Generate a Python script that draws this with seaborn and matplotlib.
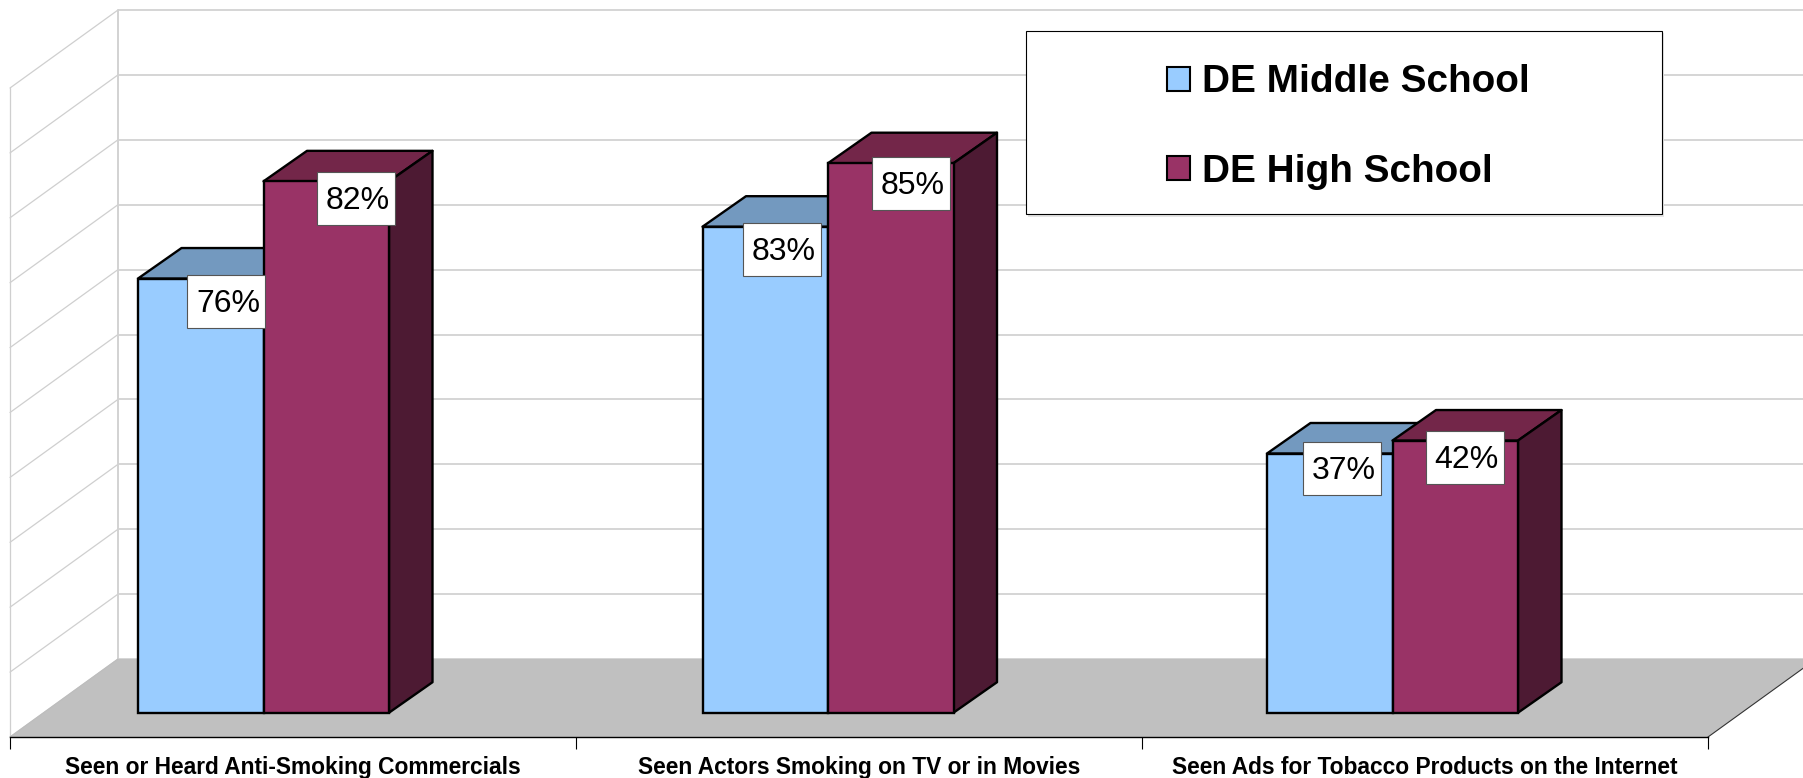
import matplotlib
matplotlib.use("Agg")
import matplotlib.pyplot as plt
import pandas as pd
import seaborn as sns
from matplotlib.patches import Polygon, Rectangle

# ---- data -------------------------------------------------------------
categories = ["Seen or Heard Anti-Smoking Commercials",
              "Seen Actors Smoking on TV or in Movies",
              "Seen Ads for Tobacco Products on the Internet"]
series_names = ["DE Middle School", "DE High School"]
middle_heights = [67, 75, 40]      # heights as drawn in the picture
high_heights = [82, 84.8, 42]
middle_labels = ["76%", "83%", "37%"]   # labels as printed in the picture
high_labels = ["82%", "85%", "42%"]
axis_levels = list(range(0, 101, 10))

# ---- layout -----------------------------------------------------------
W, H = 1803, 778
PX_PER_CAT = 564.5
PX_PER_PCT = 6.48
WALL_PX_PER_PCT = 6.49
CAT0_PX, BASE_PX = 263.5, 712.7
def X(p): return (p - CAT0_PX) / PX_PER_CAT
def Y(p): return (BASE_PX - p) / PX_PER_PCT

BAR_DX, BAR_DY = 43.5 / PX_PER_CAT, 30.5 / PX_PER_PCT
WALL_DX = 108
FRONT_L, FRONT_R, FRONT_B, BACK_B = 10, 1708, 737, 659

colors = {"DE Middle School": ("#99CCFF", "#7399BF", "#4D6680"),
          "DE High School": ("#993366", "#732649", "#4D1A33")}
label_offsets = {"DE Middle School": [(25.5, 23), (17, 23), (12, 15)],
                 "DE High School": [(30, 17), (20, 20), (9.6, 17)]}
TEXT_NUDGE_X = 1.8
BOX_W, BOX_H = 77.7, 53.3

sns.set_theme(style="white")
plt.rcParams["font.family"] = ["Liberation Sans", "DejaVu Sans"]

fig = plt.figure(figsize=(W / 100, H / 100), dpi=100)
ax = fig.add_axes([0, 0, 1, 1])
ax.patch.set_alpha(0)

df = pd.DataFrame({
    "category": categories * 2,
    "series": [series_names[0]] * 3 + [series_names[1]] * 3,
    "value": middle_heights + high_heights,
})
sns.barplot(data=df, x="category", y="value", hue="series", hue_order=series_names,
            palette={k: v[0] for k, v in colors.items()}, saturation=1, width=251 / PX_PER_CAT,
            gap=0, edgecolor="black", linewidth=1.7, ax=ax, zorder=3, legend=True)

ax.set_xlim(X(0), X(W))
ax.set_ylim(Y(H), Y(0))
ax.set_xlabel("")
ax.set_ylabel("")
ax.yaxis.set_visible(False)

# walls and floor
GRID = "#D2D2D2"
for lv in axis_levels:
    yb = BACK_B - lv * WALL_PX_PER_PCT
    yf = FRONT_B - lv * WALL_PX_PER_PCT
    ax.plot([X(FRONT_L + WALL_DX), X(W + 5)], [Y(yb), Y(yb)], color=GRID, lw=1.3, zorder=1,
            solid_capstyle="butt")
    ax.plot([X(FRONT_L), X(FRONT_L + WALL_DX)], [Y(yf), Y(yb)], color="#CFCFCF", lw=0.9, zorder=1)
top_b = BACK_B - 100 * WALL_PX_PER_PCT
top_f = FRONT_B - 100 * WALL_PX_PER_PCT
ax.plot([X(FRONT_L + WALL_DX)] * 2, [Y(BACK_B), Y(top_b)], color=GRID, lw=1.4, zorder=1)
ax.plot([X(FRONT_L)] * 2, [Y(FRONT_B), Y(top_f)], color="#CFCFCF", lw=0.9, zorder=1)
ax.add_patch(Polygon([(X(FRONT_L), Y(FRONT_B)), (X(FRONT_R), Y(FRONT_B)),
                      (X(FRONT_R + WALL_DX), Y(BACK_B)), (X(FRONT_L + WALL_DX), Y(BACK_B))],
                     closed=True, facecolor="#C0C0C0", edgecolor="none", zorder=2))
ax.plot([X(FRONT_R), X(FRONT_R + WALL_DX)], [Y(FRONT_B), Y(BACK_B)], color="#333333", lw=0.8, zorder=2.5)
ax.plot([X(FRONT_L), X(FRONT_L + WALL_DX)], [Y(FRONT_B), Y(BACK_B)], color="#BDBDBD", lw=0.8, zorder=2.5)

# 3-D faces and data labels derived from the seaborn bars
label_lists = [middle_labels, high_labels]
for s, (cont, name) in enumerate(zip(ax.containers, series_names)):
    _, top_c, side_c = colors[name]
    z = 3 + s * 2
    for i, bar in enumerate(cont):
        x0, w, h = bar.get_x(), bar.get_width(), bar.get_height()
        x1 = x0 + w
        bar.set_zorder(z + 0.5)
        ax.add_patch(Polygon([(x0, h), (x1, h), (x1 + BAR_DX, h + BAR_DY), (x0 + BAR_DX, h + BAR_DY)],
                             closed=True, facecolor=top_c, edgecolor="black", lw=1.7, zorder=z,
                             joinstyle="round"))
        ax.add_patch(Polygon([(x1, 0), (x1 + BAR_DX, BAR_DY), (x1 + BAR_DX, h + BAR_DY), (x1, h)],
                             closed=True, facecolor=side_c, edgecolor="black", lw=1.7, zorder=z,
                             joinstyle="round"))

for s, (cont, name) in enumerate(zip(ax.containers, series_names)):
    for i, bar in enumerate(cont):
        dx, dy = label_offsets[name][i]
        cx = bar.get_x() + bar.get_width() / 2 + dx / PX_PER_CAT
        cy = bar.get_height() - dy / PX_PER_PCT
        ax.add_patch(Rectangle((cx - BOX_W / 2 / PX_PER_CAT, cy - BOX_H / 2 / PX_PER_PCT),
                               BOX_W / PX_PER_CAT, BOX_H / PX_PER_PCT, facecolor="white",
                               edgecolor="#555555", lw=0.8, zorder=8))
        ax.text(cx + TEXT_NUDGE_X / PX_PER_CAT, cy + 0.8 / PX_PER_PCT, label_lists[s][i], ha="center",
                va="center_baseline", fontsize=23, color="black", zorder=9)

# category axis along the front of the floor
for side in ["top", "left", "right"]:
    ax.spines[side].set_visible(False)
sp = ax.spines["bottom"]
sp.set_visible(True)
sp.set_color("black")
sp.set_linewidth(1.0)
sp.set_position(("data", Y(FRONT_B)))
sp.set_bounds(X(FRONT_L), X(FRONT_R))
sp.set_zorder(3)
step = (FRONT_R - FRONT_L) / 3
ax.set_xticks([X(FRONT_L + k * step) for k in range(4)], labels=[""] * 4)
ax.set_xticks([X(FRONT_L + (k + 0.5) * step) for k in range(3)], labels=categories, minor=True)
ax.tick_params(axis="x", which="major", bottom=True, length=8.6, width=0.8, color="black")
ax.tick_params(axis="x", which="minor", bottom=True, length=0, pad=14, labelsize=16.4, labelcolor="black")
for t in ax.get_xticklabels(minor=True):
    t.set_fontweight("bold")

# legend box
ax.add_patch(Rectangle((X(1028), Y(216.5)), X(1664) - X(1028), Y(33) - Y(216.5),
                       facecolor="#E4E4E4", edgecolor="none", zorder=9.5))
ax.add_patch(Rectangle((X(1026), Y(214)), X(1662) - X(1026), Y(31) - Y(214),
                       facecolor="white", edgecolor="black", lw=0.8, zorder=10))
handles, labels = ax.get_legend_handles_labels()
for hd in handles:
    hd.set_linewidth(1.5)
leg = ax.legend(handles, labels, loc="upper left", bbox_to_anchor=(1167 / W, 1 - 64.5 / H),
                bbox_transform=fig.transFigure, frameon=False, fontsize=27.9, borderpad=0,
                borderaxespad=0, handlelength=0.6, handleheight=0.6, handletextpad=0.3,
                labelspacing=1.37, title=None, labelcolor="black")
for t in leg.get_texts():
    t.set_fontweight("bold")
leg.set_zorder(11)

fig.savefig("out.png", dpi=100)
